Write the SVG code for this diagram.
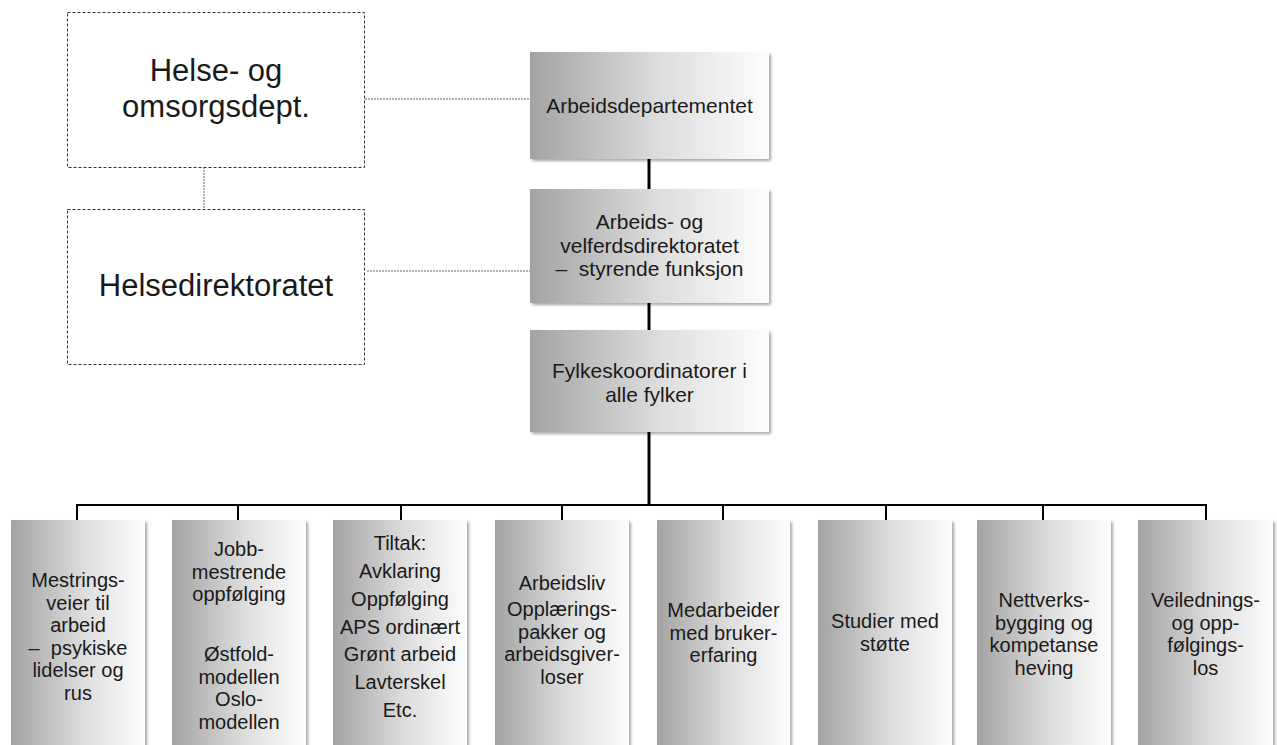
<svg xmlns="http://www.w3.org/2000/svg" width="1277" height="745" viewBox="0 0 1277 745">
<defs>
<linearGradient id="g" x1="0" y1="0" x2="1" y2="0">
<stop offset="0" stop-color="#a3a3a3"/>
<stop offset="0.55" stop-color="#dedede"/>
<stop offset="1" stop-color="#fdfdfd"/>
</linearGradient>
<filter id="sh" x="-10%" y="-10%" width="120%" height="120%">
<feGaussianBlur in="SourceAlpha" stdDeviation="1.5"/>
<feOffset dx="1.5" dy="1.5" result="b"/>
<feComponentTransfer><feFuncA type="linear" slope="0.35"/></feComponentTransfer>
<feMerge><feMergeNode/><feMergeNode in="SourceGraphic"/></feMerge>
</filter>
</defs>
<style>
.dash{fill:#fff;stroke:#333;stroke-width:1;stroke-dasharray:3,2}
.dot{stroke:#666;stroke-width:1;stroke-dasharray:2,1;fill:none}
.box{fill:url(#g);filter:url(#sh)}
.ln{stroke:#000;fill:none}
text{font-family:"Liberation Sans",Arial,sans-serif;fill:#1a1a1a;text-anchor:middle}
.big{font-size:31px}
.mid{font-size:21px}
.s20{font-size:20px}
.s21{font-size:21px}
</style>
<rect width="1277" height="745" fill="#fff"/>
<g id="connectors">
<line class="dot" x1="204" y1="167" x2="204" y2="209"/>
<line class="dot" x1="359" y1="99" x2="530" y2="99"/>
<line class="dot" x1="367" y1="271" x2="530" y2="271"/>
<line class="ln" x1="649" y1="158" x2="649" y2="190" stroke-width="3"/>
<line class="ln" x1="649" y1="302" x2="649" y2="330" stroke-width="3"/>
<line class="ln" x1="649" y1="432" x2="649" y2="505" stroke-width="3"/>
<path class="ln" stroke-width="2" d="M77 520 V505 H1206 V520 M238 505 V520 M401 505 V520 M562 505 V520 M723 505 V520 M886 505 V520 M1043 505 V520"/>
</g>
<g id="helse-dept">
<rect class="dash" x="67.5" y="12.5" width="297" height="155"/>
<text class="big" x="216" y="81">Helse- og</text>
<text class="big" x="216" y="117">omsorgsdept.</text>
</g>
<g id="helsedir">
<rect class="dash" x="67.5" y="209.5" width="297" height="155"/>
<text class="big" x="216" y="296">Helsedirektoratet</text>
</g>
<g id="arbeidsdep">
<rect class="box" x="530" y="52" width="239" height="107"/>
<text class="mid" x="649.5" y="113">Arbeidsdepartementet</text>
</g>
<g id="arbeidsdir">
<rect class="box" x="530" y="189" width="239" height="114"/>
<text class="mid" x="649.5" y="229">Arbeids- og</text>
<text class="mid" x="649.5" y="252.5">velferdsdirektoratet</text>
<text class="mid" x="649.5" y="276" xml:space="preserve">–  styrende funksjon</text>
</g>
<g id="fylkes">
<rect class="box" x="530" y="330" width="239" height="102"/>
<text class="mid" x="649.5" y="378">Fylkeskoordinatorer i</text>
<text class="mid" x="649.5" y="401.5">alle fylker</text>
</g>
<g id="b1">
<rect class="box" x="11" y="520" width="134" height="235"/>
<g class="s20">
<text x="78" y="587">Mestrings-</text>
<text x="78" y="609.5">veier til</text>
<text x="78" y="632">arbeid</text>
<text x="78" y="654.5" xml:space="preserve">–  psykiske</text>
<text x="78" y="677">lidelser og</text>
<text x="78" y="699.5">rus</text>
</g>
</g>
<g id="b2">
<rect class="box" x="172" y="520" width="134" height="235"/>
<g class="s20">
<text x="239" y="556">Jobb-</text>
<text x="239" y="578.5">mestrende</text>
<text x="239" y="601">oppfølging</text>
<text x="239" y="661">Østfold-</text>
<text x="239" y="683.5">modellen</text>
<text x="239" y="706">Oslo-</text>
<text x="239" y="728.5">modellen</text>
</g>
</g>
<g id="b3">
<rect class="box" x="333" y="520" width="134" height="235"/>
<g class="s20">
<text x="400" y="550">Tiltak:</text>
<text x="400" y="578">Avklaring</text>
<text x="400" y="606">Oppfølging</text>
<text x="400" y="634">APS ordinært</text>
<text x="400" y="661">Grønt arbeid</text>
<text x="400" y="689">Lavterskel</text>
<text x="400" y="717">Etc.</text>
</g>
</g>
<g id="b4">
<rect class="box" x="495" y="520" width="134" height="235"/>
<g class="s20">
<text x="562" y="590">Arbeidsliv</text>
<text x="562" y="616">Opplærings-</text>
<text x="562" y="638.5">pakker og</text>
<text x="562" y="661">arbeidsgiver-</text>
<text x="562" y="683.5">loser</text>
</g>
</g>
<g id="b5">
<rect class="box" x="657" y="520" width="133" height="235"/>
<g class="s20">
<text x="723.5" y="617">Medarbeider</text>
<text x="723.5" y="639.5">med bruker-</text>
<text x="723.5" y="662">erfaring</text>
</g>
</g>
<g id="b6">
<rect class="box" x="818" y="520" width="134" height="235"/>
<g class="s20">
<text x="885" y="628">Studier med</text>
<text x="885" y="650.5">støtte</text>
</g>
</g>
<g id="b7">
<rect class="box" x="977" y="520" width="134" height="235"/>
<g class="s20">
<text x="1044" y="607">Nettverks-</text>
<text x="1044" y="629.5">bygging og</text>
<text x="1044" y="652">kompetanse</text>
<text x="1044" y="674.5">heving</text>
</g>
</g>
<g id="b8">
<rect class="box" x="1138" y="520" width="135" height="235"/>
<g class="s20">
<text x="1205.5" y="607">Veilednings-</text>
<text x="1205.5" y="629.5">og opp-</text>
<text x="1205.5" y="652">følgings-</text>
<text x="1205.5" y="674.5">los</text>
</g>
</g>
</svg>
